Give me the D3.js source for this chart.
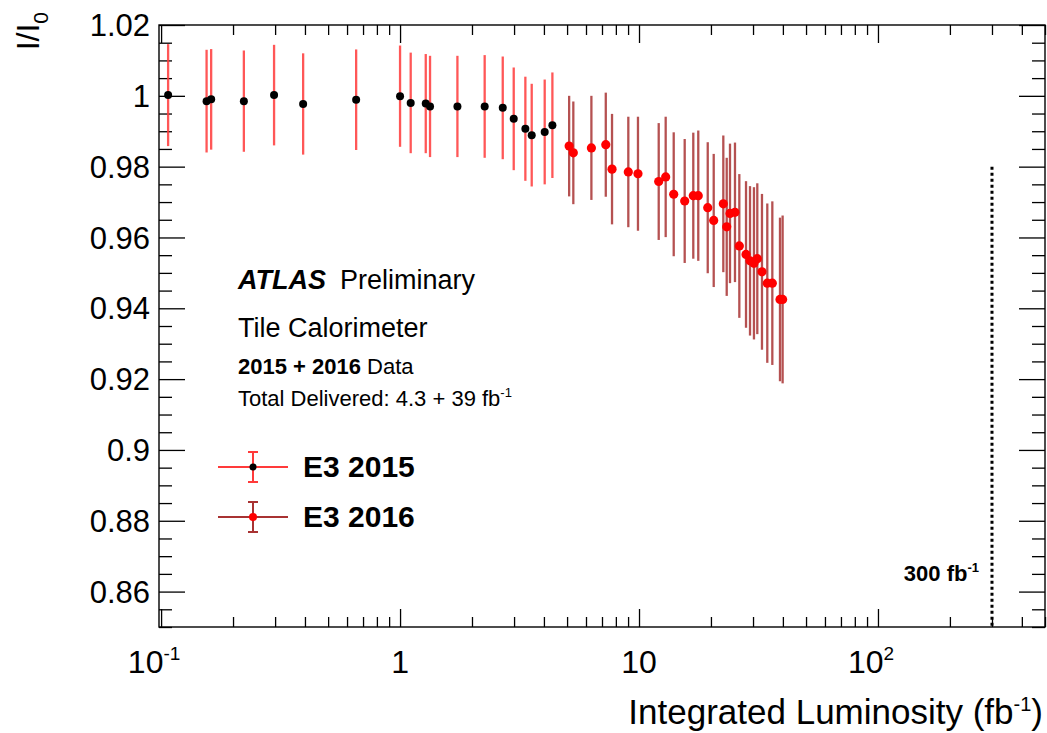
<!DOCTYPE html>
<html><head><meta charset="utf-8">
<script src="https://cdn.jsdelivr.net/npm/d3@7"></script>
<style>body{margin:0;background:#fff} text{font-family:"Liberation Sans",Arial,Helvetica,sans-serif;fill:#000}</style>
</head><body><svg id="c" width="1047" height="733"></svg>
<script>
// ---- data ----
const lumi2015 = [0.107, 0.155, 0.162, 0.222, 0.297, 0.393, 0.655, 1.0, 1.108, 1.281, 1.335, 1.738, 2.26, 2.69, 2.99, 3.345, 3.556, 4.03, 4.34];
const ratio2015 = [1.0002, 0.9985, 0.9990, 0.9985, 1.0002, 0.9977, 0.9989, 0.9999, 0.9980, 0.9978, 0.9970, 0.9970, 0.9970, 0.9966, 0.9935, 0.9907, 0.9889, 0.9898, 0.9917];
const err2015 = [0.0144, 0.0145, 0.0142, 0.0143, 0.0142, 0.0143, 0.0142, 0.0143, 0.0142, 0.0140, 0.0143, 0.0143, 0.0145, 0.0145, 0.0145, 0.0147, 0.0145, 0.0148, 0.0149];

const lumi2016 = [5.10, 5.31, 6.32, 7.26, 7.71, 9.02, 9.90, 12.09, 12.93, 13.97, 15.53, 16.87, 17.70, 19.39, 20.54, 22.53, 23.28, 24.03, 25.21, 26.29, 28.04, 29.14, 30.27, 31.26, 32.70, 34.42, 36.13, 38.90, 39.90];
const ratio2016 = [0.9858, 0.9839, 0.9853, 0.9862, 0.9793, 0.9785, 0.9780, 0.9758, 0.9771, 0.9722, 0.9703, 0.9718, 0.9718, 0.9684, 0.9648, 0.9695, 0.9630, 0.9668, 0.9671, 0.9576, 0.9552, 0.9534, 0.9527, 0.9540, 0.9503, 0.9471, 0.9471, 0.9425, 0.9425];
const err2016 = [0.0142, 0.0145, 0.0147, 0.0147, 0.0156, 0.0156, 0.0161, 0.0165, 0.0170, 0.0175, 0.0175, 0.0178, 0.0184, 0.0185, 0.0188, 0.0193, 0.0195, 0.0197, 0.0197, 0.0203, 0.0207, 0.0211, 0.0215, 0.0213, 0.0220, 0.0225, 0.0231, 0.0231, 0.0237];

const seriesNames = ["E3 2015", "E3 2016"];
const yTicks = [0.86, 0.88, 0.90, 0.92, 0.94, 0.96, 0.98, 1.00, 1.02];
const yTickLabels = ["0.86", "0.88", "0.9", "0.92", "0.94", "0.96", "0.98", "1", "1.02"];
const xTicks = [0.1, 1, 10, 100];
const xTickBase = ["10", "1", "10", "10"];
const xTickExp = ["-1", "", "", "2"];
const targetLumi = 300;

// ---- layout ----
const L = 159, R = 1045, T = 25, B = 627;
const svg = d3.select("#c");
const x = d3.scaleLog().domain([0.098, 500]).range([L, R]);
const y = d3.scaleLinear().domain([0.85, 1.02]).range([B, T]);

const col15bar = "#ff3a3a", col16bar = "#a83232", col16pt = "#ff0000";

// minor ticks
const xMinor = [];
[0.1, 1, 10, 100].forEach(d => { for (let k = 2; k <= 9; k++) { const v = d * k; if (v <= 500) xMinor.push(v); } });
const yMinor = d3.range(0.85, 1.0201, 0.005).map(v => +v.toFixed(3)).filter(v => !yTicks.some(t => Math.abs(t - v) < 1e-6));

function axisG(axis) { const g = svg.append("g"); g.call(axis); g.select(".domain").remove(); g.selectAll("line").attr("stroke", "#000").attr("stroke-width", 1.3); return g; }

// bottom
axisG(d3.axisTop(x).tickValues(xTicks).tickSize(18).tickFormat("")).attr("transform", `translate(0,${B})`);
axisG(d3.axisTop(x).tickValues(xMinor).tickSize(10).tickFormat("")).attr("transform", `translate(0,${B})`);
// top
axisG(d3.axisBottom(x).tickValues(xTicks).tickSize(18).tickFormat("")).attr("transform", `translate(0,${T})`);
axisG(d3.axisBottom(x).tickValues(xMinor).tickSize(10).tickFormat("")).attr("transform", `translate(0,${T})`);
// left
axisG(d3.axisRight(y).tickValues(yTicks).tickSize(26).tickFormat("")).attr("transform", `translate(${L},0)`);
axisG(d3.axisRight(y).tickValues(yMinor).tickSize(13).tickFormat("")).attr("transform", `translate(${L},0)`);
// right
axisG(d3.axisLeft(y).tickValues(yTicks).tickSize(26).tickFormat("")).attr("transform", `translate(${R},0)`);
axisG(d3.axisLeft(y).tickValues(yMinor).tickSize(13).tickFormat("")).attr("transform", `translate(${R},0)`);

svg.append("rect").attr("x", L).attr("y", T).attr("width", R - L).attr("height", B - T)
  .attr("fill", "none").attr("stroke", "#000").attr("stroke-width", 1.4);

// y tick labels
svg.append("g").selectAll("text").data(yTicks).join("text")
  .attr("x", L - 9).attr("y", d => y(d)).attr("dy", "0.36em")
  .attr("text-anchor", "end").style("font-size", "31px")
  .text((d, i) => yTickLabels[i]);

// x tick labels
const xl = svg.append("g").selectAll("text").data(xTicks).join("text")
  .attr("x", (d, i) => x(d) + (xTickExp[i] ? -7 : 0)).attr("y", B + 46)
  .attr("text-anchor", "middle").style("font-size", "32px");
xl.append("tspan").text((d, i) => xTickBase[i]);
xl.append("tspan").attr("dy", -13).style("font-size", "19px").text((d, i) => xTickExp[i]);

// axis titles
const xt = svg.append("text").attr("x", 1043).attr("y", 724).attr("text-anchor", "end").style("font-size", "35px");
xt.append("tspan").text("Integrated Luminosity (fb");
xt.append("tspan").attr("dy", -13).style("font-size", "20px").text("-1");
xt.append("tspan").attr("dy", 13).text(")");

const yt = svg.append("text").attr("transform", "translate(39,12) rotate(-90)").attr("text-anchor", "end").style("font-size", "32px");
yt.append("tspan").text("I/I");
yt.append("tspan").attr("dy", 9).style("font-size", "21px").text("0");

// target line
svg.append("line").attr("x1", x(targetLumi)).attr("x2", x(targetLumi)).attr("y1", y(0.98)).attr("y2", B)
  .attr("stroke", "#000").attr("stroke-width", 3).attr("stroke-dasharray", "3,3");
const tl = svg.append("text").attr("x", x(targetLumi) - 13).attr("y", 581).attr("text-anchor", "end")
  .style("font-size", "22px").style("font-weight", "bold");
tl.append("tspan").text("300 fb");
tl.append("tspan").attr("dy", -9).style("font-size", "13px").text("-1");

// data
function drawSeries(lumi, ratio, err, barCol, ptCol, r) {
  const g = svg.append("g");
  g.selectAll("line").data(lumi).join("line")
    .attr("x1", d => x(d)).attr("x2", d => x(d))
    .attr("y1", (d, i) => y(ratio[i] + err[i])).attr("y2", (d, i) => y(ratio[i] - err[i]))
    .attr("stroke", barCol).attr("stroke-width", 2.3).attr("stroke-opacity", 0.85);
  g.selectAll("circle").data(lumi).join("circle")
    .attr("cx", d => x(d)).attr("cy", (d, i) => y(ratio[i])).attr("r", r).attr("fill", ptCol);
}
drawSeries(lumi2015, ratio2015, err2015, col15bar, "#000", 4);
drawSeries(lumi2016, ratio2016, err2016, col16bar, col16pt, 4.6);

// labels
const a = svg.append("text").attr("x", 238).attr("y", 289).style("font-size", "27px");
a.append("tspan").style("font-weight", "bold").style("font-style", "italic").text("ATLAS");
a.append("tspan").attr("dx", 14).text("Preliminary");
svg.append("text").attr("x", 238).attr("y", 337).style("font-size", "27px").text("Tile Calorimeter");
const dd = svg.append("text").attr("x", 238).attr("y", 374).style("font-size", "22px");
dd.append("tspan").style("font-weight", "bold").text("2015 + 2016");
dd.append("tspan").text(" Data");
const td = svg.append("text").attr("x", 238).attr("y", 406).style("font-size", "22px");
td.append("tspan").text("Total Delivered: 4.3 + 39 fb");
td.append("tspan").attr("dy", -9).style("font-size", "13px").text("-1");

// legend
const legY = [467, 517];
const legBar = [col15bar, col16bar], legPt = ["#000", col16pt], legR = [3.5, 4];
seriesNames.forEach((name, i) => {
  const g = svg.append("g");
  const cy = legY[i];
  g.append("line").attr("x1", 218).attr("x2", 288).attr("y1", cy).attr("y2", cy).attr("stroke", legBar[i]).attr("stroke-width", 2);
  g.append("line").attr("x1", 253).attr("x2", 253).attr("y1", cy - 15).attr("y2", cy + 15).attr("stroke", legBar[i]).attr("stroke-width", 2);
  g.append("line").attr("x1", 248).attr("x2", 258).attr("y1", cy - 15).attr("y2", cy - 15).attr("stroke", legBar[i]).attr("stroke-width", 2);
  g.append("line").attr("x1", 248).attr("x2", 258).attr("y1", cy + 15).attr("y2", cy + 15).attr("stroke", legBar[i]).attr("stroke-width", 2);
  g.append("circle").attr("cx", 253).attr("cy", cy).attr("r", legR[i]).attr("fill", legPt[i]);
  g.append("text").attr("x", 303).attr("y", cy + 10).style("font-size", "30px").style("font-weight", "bold").text(name);
});
</script></body></html>
